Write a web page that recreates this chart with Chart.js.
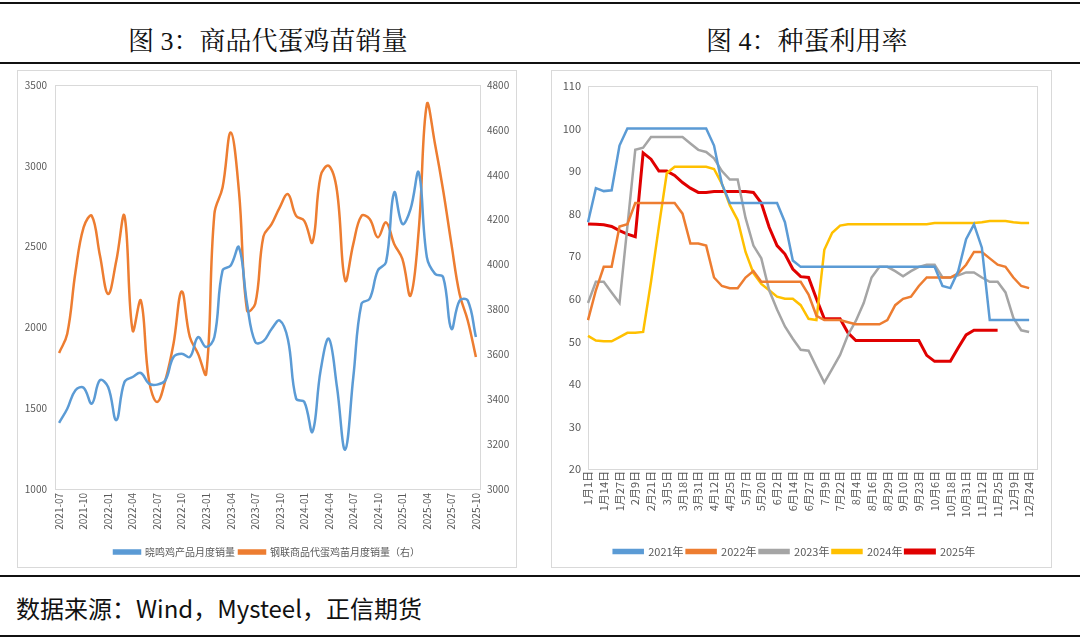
<!DOCTYPE html>
<html>
<head>
<meta charset="utf-8">
<script src="https://cdn.jsdelivr.net/npm/chart.js@4.4.1/dist/chart.umd.min.js"></script>
<style>
  body { margin: 0; background: #fff; width: 1080px; height: 640px; position: relative; overflow: hidden; }
  .rule { position: absolute; left: 0; width: 1080px; height: 2px; background: #111; }
  .title { position: absolute; top: 20px; font-family: "Liberation Serif", "Noto Serif CJK SC", "Noto Sans CJK SC", serif; font-size: 26px; color: #111; white-space: nowrap; }
  .box { position: absolute; top: 70px; height: 498px; border: 1px solid #d9d9d9; box-sizing: border-box; }
  .box canvas { position: absolute; left: 0; top: 0; }
  .src { position: absolute; left: 16px; top: 590px; font-family: "Noto Sans CJK SC", sans-serif; font-size: 24px; color: #111; white-space: nowrap; }
</style>
</head>
<body>
<div class="rule" style="top:2px"></div>
<div class="title" style="left:128px">图 3：商品代蛋鸡苗销量</div>
<div class="title" style="left:706px">图 4：种蛋利用率</div>
<div class="rule" style="top:62px"></div>
<div class="box" style="left:17px; width:500px"><canvas id="c1" width="498" height="496"></canvas></div>
<div class="box" style="left:551px; width:501px"><canvas id="c2" width="499" height="496"></canvas></div>
<div class="rule" style="top:575px"></div>
<div class="src">数据来源：Wind，Mysteel，正信期货</div>
<div class="rule" style="top:635px"></div>

<script>
// 图3 月度数据
const months = [
  "2021-07","2021-08","2021-09","2021-10","2021-11","2021-12",
  "2022-01","2022-02","2022-03","2022-04","2022-05","2022-06",
  "2022-07","2022-08","2022-09","2022-10","2022-11","2022-12",
  "2023-01","2023-02","2023-03","2023-04","2023-05","2023-06",
  "2023-07","2023-08","2023-09","2023-10","2023-11","2023-12",
  "2024-01","2024-02","2024-03","2024-04","2024-05","2024-06",
  "2024-07","2024-08","2024-09","2024-10","2024-11","2024-12",
  "2025-01","2025-02","2025-03","2025-04","2025-05","2025-06",
  "2025-07","2025-08","2025-09","2025-10"
];
const xiaoming = [
  1409, 1497, 1611, 1627, 1528, 1673, 1631, 1426, 1662, 1693, 1718, 1652,
  1646, 1673, 1817, 1837, 1817, 1940, 1878, 1940, 2352, 2383, 2496, 2146,
  1909, 1915, 1990, 2043, 1925, 1559, 1539, 1354, 1734, 1930, 1631, 1244,
  1693, 2146, 2177, 2352, 2403, 2835, 2640, 2732, 2959, 2434, 2331, 2310,
  1991, 2166, 2166, 1940
];
const ganglian = [
  3606, 3692, 3966, 4166, 4217, 4040, 3869, 4017, 4217, 3706, 3840, 3484,
  3388, 3484, 3647, 3880, 3677, 3603, 3514, 4225, 4343, 4588, 4329, 3795,
  3825, 4125, 4180, 4255, 4314, 4217, 4195, 4099, 4395, 4440, 4329, 3929,
  4092, 4217, 4203, 4121, 4188, 4092, 4025, 3862, 4151, 4714, 4536, 4329,
  4092, 3869, 3751, 3588
];

// 图4 种蛋利用率
const dayLabels = [
  "1月1日","1月14日","1月27日","2月9日","2月21日","3月5日","3月18日","3月31日",
  "4月12日","4月25日","5月7日","5月20日","6月2日","6月14日","6月27日","7月9日",
  "7月22日","8月4日","8月16日","8月29日","9月10日","9月23日","10月6日","10月18日",
  "10月31日","11月12日","11月25日","12月9日","12月24日"
];
const y2021 = [
  78, 86, 85.3, 85.5, 96, 100, 100, 100, 100, 100, 100, 100, 100, 100, 100, 100,
  96, 87, 82.5, 82.5, 82.5, 82.5, 82.5, 82.5, 82.5, 78, 69,
  67.5, 67.5, 67.5, 67.5, 67.5, 67.5, 67.5, 67.5, 67.5, 67.5, 67.5, 67.5, 67.5, 67.5, 67.5, 67.5, 67.5, 67.5,
  63, 62.5, 66.5, 74, 77.5, 72, 55, 55, 55, 55, 55, 55
];
const y2022 = [
  55, 62, 67.5, 67.5, 77, 77.5, 82.5, 82.5, 82.5, 82.5, 82.5, 82.5, 80, 73, 73, 72.5,
  65, 63, 62.5, 62.5, 65, 66.5, 64, 64, 64, 64, 64, 64, 61, 56, 55, 55,
  55, 54.5, 54, 54, 54, 54, 55, 58.5, 60, 60.5, 63, 65, 65, 65, 65, 66,
  68, 71, 71, 69.5, 68, 67.5, 65, 63, 62.5
];
const y2023 = [
  59, 64, 64, 61.5, 59, 77, 95, 95.5, 98, 98, 98, 98, 98, 96.5, 95, 94.5,
  93, 90, 88, 88, 79, 72.5, 69.5, 62, 57.5, 53.5, 50.6, 48, 47.8, 44, 40.3, 43.5,
  46.8, 51.5, 54.8, 59, 65, 67.5, 67.5, 66.5, 65.3, 66.5, 67.5, 68, 68, 65, 65, 65.5,
  66.2, 66.2, 65, 64, 64, 61.5, 55.5, 52.6, 52.2
];
const y2024 = [
  51.3, 50.2, 50, 50, 51, 52, 52, 52.2, 64, 77, 89.5, 91, 91, 91, 91, 91,
  90.5, 87, 82, 78.5, 71, 66, 63.5, 62, 60.5, 60, 60, 58.5, 55.3, 55, 71.5, 75.5,
  77.2, 77.5, 77.5, 77.5, 77.5, 77.5, 77.5, 77.5, 77.5, 77.5, 77.5, 77.5, 77.8, 77.8, 77.8, 77.8,
  77.8, 77.8, 78, 78.3, 78.3, 78.3, 78, 77.8, 77.8
];
const y2025 = [
  77.6, 77.5, 77.4, 77, 76, 75.2, 74.6, 94.3, 92.8, 90, 90, 89, 87.3, 86, 85, 85,
  85.2, 85.2, 85.2, 85.2, 85.2, 85, 82.5, 76.8, 72.5, 70.5, 67, 65.2, 65, 60, 55.3, 55.3,
  55.3, 52, 50.2, 50.2, 50.2, 50.2, 50.2, 50.2, 50.2, 50.2, 50.2, 46.7, 45.3, 45.3, 45.3, 48.5,
  51.5, 52.6, 52.6, 52.6, 52.6
];

const tickColor = "#595959";
const cjk = '"Noto Sans CJK SC", "Open Sans", sans-serif';

// 图4 的类目：每两格一个标签
const dayCats = [];
dayLabels.forEach(function (d) {
  dayCats.push(d);
  dayCats.push("");
});

function plain(v) { return String(v); }

const plotBorder = {
  id: "plotBorder",
  beforeDatasetsDraw(chart) {
    const a = chart.chartArea;
    const ctx = chart.ctx;
    ctx.save();
    ctx.strokeStyle = "#d9d9d9";
    ctx.lineWidth = 1;
    ctx.strokeRect(Math.round(a.left) + 0.5, Math.round(a.top) + 0.5, Math.round(a.width), Math.round(a.height));
    ctx.restore();
  }
};

new Chart(document.getElementById("c1"), {
  type: "line",
  data: {
    labels: months,
    datasets: [
      {
        label: "晓鸣鸡产品月度销量",
        data: xiaoming,
        yAxisID: "y",
        borderColor: "#5B9BD5",
        backgroundColor: "#5B9BD5",
        borderWidth: 2.5,
        pointRadius: 0,
        tension: 0.4
      },
      {
        label: "钢联商品代蛋鸡苗月度销量（右）",
        data: ganglian,
        yAxisID: "y1",
        borderColor: "#ED7D31",
        backgroundColor: "#ED7D31",
        borderWidth: 2.5,
        pointRadius: 0,
        tension: 0.4
      }
    ]
  },
  options: {
    responsive: false,
    animation: false,
    layout: { padding: { top: 13, left: 0, right: 0, bottom: 0 } },
    plugins: {
      tooltip: { enabled: false },
      legend: {
        position: "bottom",
        labels: { boxWidth: 26, boxHeight: 3, padding: 4, color: tickColor, font: { family: cjk, size: 10 } }
      }
    },
    scales: {
      x: {
        offset: true,
        grid: { display: false, drawTicks: false },
        border: { display: false },
        ticks: { autoSkip: false, maxRotation: 90, minRotation: 90, padding: 4, color: tickColor, font: { family: cjk, size: 10 } },
        afterBuildTicks(scale) { scale.ticks = scale.ticks.filter(function (t) { return t.value % 3 === 0; }); },
        afterFit(scale) { scale.height = 54; }
      },
      y: {
        position: "left",
        min: 1000, max: 3500,
        grid: { display: false, drawTicks: false },
        border: { display: false },
        ticks: { stepSize: 500, padding: 8, color: tickColor, font: { family: cjk, size: 10 }, callback: plain },
        afterFit(scale) { scale.width = 37; }
      },
      y1: {
        position: "right",
        min: 3000, max: 4800,
        grid: { display: false, drawTicks: false },
        border: { display: false },
        ticks: { stepSize: 200, padding: 7, color: tickColor, font: { family: cjk, size: 10 }, callback: plain },
        afterFit(scale) { scale.width = 36; }
      }
    }
  },
  plugins: [plotBorder]
});

function yearSet(label, data, color, width) {
  return { label: label, data: data, borderColor: color, backgroundColor: color, borderWidth: width, pointRadius: 0, tension: 0 };
}

new Chart(document.getElementById("c2"), {
  type: "line",
  data: {
    labels: dayCats,
    datasets: [
      yearSet("2021年", y2021, "#5B9BD5", 2.5),
      yearSet("2022年", y2022, "#ED7D31", 2.5),
      yearSet("2023年", y2023, "#A5A5A5", 2.5),
      yearSet("2024年", y2024, "#FFC000", 2.5),
      yearSet("2025年", y2025, "#E00000", 3)
    ]
  },
  options: {
    responsive: false,
    animation: false,
    layout: { padding: { top: 15, left: 0, right: 14, bottom: 0 } },
    plugins: {
      tooltip: { enabled: false },
      legend: {
        position: "bottom",
        labels: { boxWidth: 29, boxHeight: 3, padding: 3, color: tickColor, font: { family: cjk, size: 11 } }
      }
    },
    scales: {
      x: {
        grid: { display: false, drawTicks: false },
        border: { display: false },
        ticks: { autoSkip: false, maxRotation: 90, minRotation: 90, padding: 2, color: tickColor, font: { family: cjk, size: 11 } },
        afterBuildTicks(scale) { scale.ticks = scale.ticks.filter(function (t) { return t.value % 2 === 0; }); },
        afterFit(scale) { scale.height = 74; }
      },
      y: {
        min: 20, max: 110,
        grid: { display: false, drawTicks: false },
        border: { display: false },
        ticks: { stepSize: 10, padding: 7, color: tickColor, font: { family: cjk, size: 11 }, callback: plain },
        afterFit(scale) { scale.width = 36; }
      }
    }
  },
  plugins: [plotBorder]
});
</script>
</body>
</html>
